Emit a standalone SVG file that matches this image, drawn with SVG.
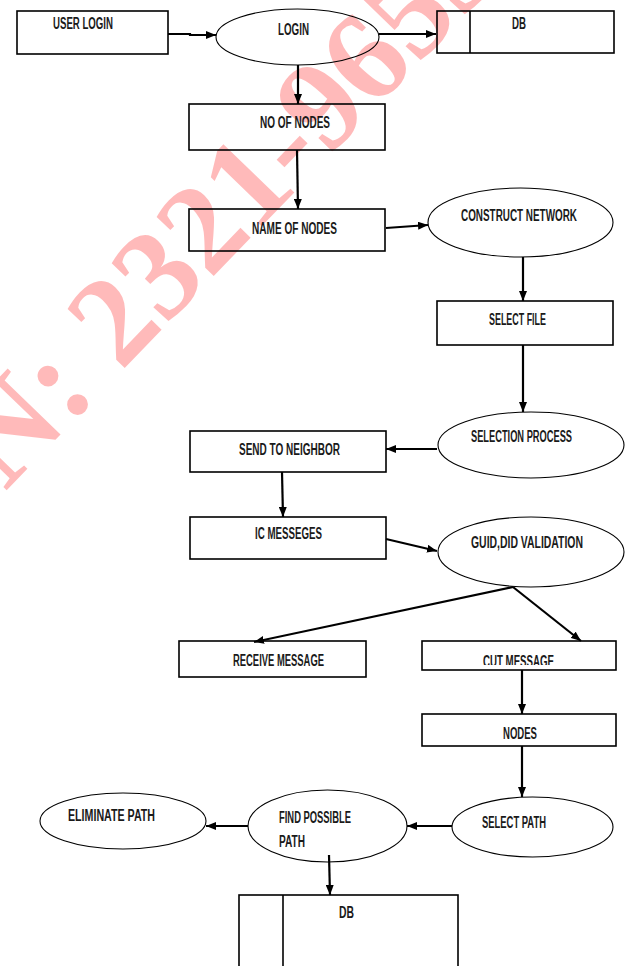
<svg xmlns="http://www.w3.org/2000/svg" width="625" height="966" viewBox="0 0 625 966">
<defs>
<style>
.box{fill:none;stroke:#000;stroke-width:1.6}
.ell{fill:none;stroke:#000;stroke-width:1.1}
.lbl{font-family:"Liberation Sans Narrow","Liberation Sans",Arial,sans-serif;font-weight:bold;font-size:16px;fill:#1a1a1a}
.con{fill:none;stroke:#000;stroke-width:2.2}
.wm{font-family:"Liberation Serif","Times New Roman",serif;font-weight:bold;font-size:128px;fill:#ff0000;fill-opacity:0.27}
</style>
<marker id="ah" viewBox="0 0 10 8" refX="10" refY="4" markerWidth="10" markerHeight="8" markerUnits="userSpaceOnUse" orient="auto">
<path d="M0,0 L10,4 L0,8 Z" fill="#000"/>
</marker>
<clipPath id="cutclip"><rect x="422" y="641" width="194" height="24"/></clipPath>
</defs>
<rect width="625" height="966" fill="#fff"/>
<g id="watermark">
<text class="wm" transform="translate(5,492) rotate(-46)" x="0" y="0">N: 2321-9653</text>
</g>
<g id="connectors">
<path class="con" d="M168,34 L190,34 L190,35 L216,35" marker-end="url(#ah)"/>
<path class="con" d="M379,34 L436,34" marker-end="url(#ah)"/>
<path class="con" d="M298,65 L298,104" marker-end="url(#ah)"/>
<path class="con" d="M297,150 L298,209" marker-end="url(#ah)"/>
<path class="con" d="M386,228 L428,225" marker-end="url(#ah)"/>
<path class="con" d="M523,257 L523,301" marker-end="url(#ah)"/>
<path class="con" d="M523,345 L523,412" marker-end="url(#ah)"/>
<path class="con" d="M437,449 L386,449" marker-end="url(#ah)"/>
<path class="con" d="M282,472 L283,517" marker-end="url(#ah)"/>
<path class="con" d="M386,539 L437,551" marker-end="url(#ah)"/>
<path class="con" d="M513,587 L254,642" marker-end="url(#ah)"/>
<path class="con" d="M513,587 L581,641" marker-end="url(#ah)"/>
<path class="con" d="M522,670 L522,714" marker-end="url(#ah)"/>
<path class="con" d="M522,746 L522,797" marker-end="url(#ah)"/>
<path class="con" d="M452,826 L407,826" marker-end="url(#ah)"/>
<path class="con" d="M248,826 L206,826" marker-end="url(#ah)"/>
<path class="con" d="M329,855 L330,895" marker-end="url(#ah)"/>
</g>
<g id="user-login">
<rect class="box" x="17" y="11" width="151" height="43"/>
<text class="lbl" x="53" y="29" textLength="60" lengthAdjust="spacingAndGlyphs">USER LOGIN</text>
</g>
<g id="login">
<ellipse class="ell" cx="297.5" cy="37" rx="81.5" ry="28"/>
<text class="lbl" x="278" y="35" textLength="31" lengthAdjust="spacingAndGlyphs">LOGIN</text>
</g>
<g id="db-top">
<rect class="box" x="437" y="11" width="177" height="42"/>
<line class="box" x1="470" y1="11" x2="470" y2="53"/>
<text class="lbl" x="512" y="29" textLength="14" lengthAdjust="spacingAndGlyphs">DB</text>
</g>
<g id="no-of-nodes">
<rect class="box" x="189" y="104" width="196" height="46"/>
<text class="lbl" x="260" y="128" textLength="70" lengthAdjust="spacingAndGlyphs">NO OF NODES</text>
</g>
<g id="name-of-nodes">
<rect class="box" x="189" y="209" width="196" height="42"/>
<text class="lbl" x="252" y="234" textLength="85" lengthAdjust="spacingAndGlyphs">NAME OF NODES</text>
</g>
<g id="construct-network">
<ellipse class="ell" cx="520.5" cy="222.5" rx="92.5" ry="34.5"/>
<text class="lbl" x="461" y="221" textLength="116" lengthAdjust="spacingAndGlyphs">CONSTRUCT NETWORK</text>
</g>
<g id="select-file">
<rect class="box" x="437" y="301" width="176" height="44"/>
<text class="lbl" x="489" y="325" textLength="57" lengthAdjust="spacingAndGlyphs">SELECT FILE</text>
</g>
<g id="selection-process">
<ellipse class="ell" cx="531" cy="445" rx="93" ry="33"/>
<text class="lbl" x="471" y="442" textLength="101" lengthAdjust="spacingAndGlyphs">SELECTION PROCESS</text>
</g>
<g id="send-to-neighbor">
<rect class="box" x="190" y="431" width="196" height="41"/>
<text class="lbl" x="239" y="455" textLength="101" lengthAdjust="spacingAndGlyphs">SEND TO NEIGHBOR</text>
</g>
<g id="ic-messeges">
<rect class="box" x="190" y="517" width="196" height="42"/>
<text class="lbl" x="255" y="539" textLength="67" lengthAdjust="spacingAndGlyphs">IC  MESSEGES</text>
</g>
<g id="guid-validation">
<ellipse class="ell" cx="531" cy="552" rx="93" ry="35"/>
<text class="lbl" x="471" y="548" textLength="112" lengthAdjust="spacingAndGlyphs">GUID,DID VALIDATION</text>
</g>
<g id="receive-message">
<rect class="box" x="179" y="641" width="187" height="36"/>
<text class="lbl" x="233" y="666" textLength="91" lengthAdjust="spacingAndGlyphs">RECEIVE MESSAGE</text>
</g>
<g id="cut-message">
<rect class="box" x="422" y="641" width="194" height="29"/>
<text class="lbl" x="483" y="667" textLength="71" lengthAdjust="spacingAndGlyphs" clip-path="url(#cutclip)">CUT MESSAGE</text>
</g>
<g id="nodes">
<rect class="box" x="422" y="714" width="194" height="32"/>
<text class="lbl" x="503" y="739" textLength="34" lengthAdjust="spacingAndGlyphs">NODES</text>
</g>
<g id="select-path">
<ellipse class="ell" cx="532.5" cy="827" rx="80.5" ry="30"/>
<text class="lbl" x="482" y="828" textLength="64" lengthAdjust="spacingAndGlyphs">SELECT PATH</text>
</g>
<g id="find-possible-path">
<ellipse class="ell" cx="327.5" cy="826" rx="79.5" ry="36"/>
<text class="lbl" x="279" y="823" textLength="72" lengthAdjust="spacingAndGlyphs">FIND POSSIBLE</text>
<text class="lbl" x="279" y="847" textLength="26" lengthAdjust="spacingAndGlyphs">PATH</text>
</g>
<g id="eliminate-path">
<ellipse class="ell" cx="123" cy="821" rx="83" ry="28"/>
<text class="lbl" x="68" y="821" textLength="87" lengthAdjust="spacingAndGlyphs">ELIMINATE PATH</text>
</g>
<g id="db-bottom">
<rect class="box" x="239" y="895" width="219" height="90"/>
<line class="box" x1="283" y1="895" x2="283" y2="966"/>
<text class="lbl" x="339" y="918" textLength="15" lengthAdjust="spacingAndGlyphs">DB</text>
</g>
</svg>
